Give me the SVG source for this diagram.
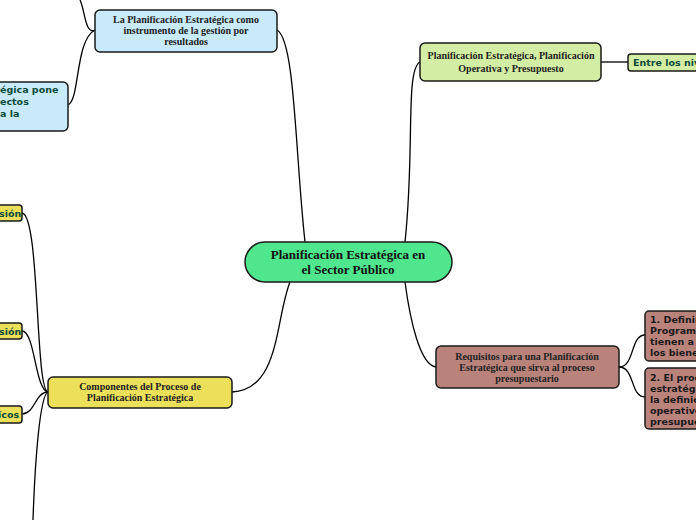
<svg xmlns="http://www.w3.org/2000/svg" width="696" height="520" viewBox="0 0 696 520">
<style>
.b{stroke:#1a1a1a;stroke-width:1.5}
.c{fill:none;stroke:#000;stroke-width:1.3}
.s{font-family:"Liberation Serif",serif;font-weight:bold;font-size:10px;fill:#222;text-anchor:middle}
.d{font-family:"DejaVu Sans",sans-serif;font-weight:bold;font-size:9.5px;fill:#1a1a1a}
.g{fill:#0b4a3a}
</style>
<rect width="696" height="520" fill="#fff"/>
<g id="connectors">
<path class="c" d="M305 242 C295 150 295 40 277 30"/>
<path class="c" d="M95 30 C85 35 85 10 80 0"/>
<path class="c" d="M95 30 C75 40 80 100 68 105"/>
<path class="c" d="M405 242 C415 150 405 70 420 62"/>
<path class="c" d="M601 62 H628"/>
<path class="c" d="M405 282 C410 320 420 365 436 367"/>
<path class="c" d="M619 367 C635 367 630 335 645 335"/>
<path class="c" d="M619 367 C635 367 630 397 645 397"/>
<path class="c" d="M290 282 C275 320 280 390 232 392"/>
<path class="c" d="M48 392 C35 390 40 215 22 213"/>
<path class="c" d="M48 392 C35 390 35 331 22 331"/>
<path class="c" d="M48 392 C35 392 35 414 22 414"/>
<path class="c" d="M48 392 C40 395 35 460 33 520"/>
</g>
<g id="n-center"><rect class="b" x="245" y="242" width="207" height="40" rx="20" fill="#50e68e"/><text class="s" style="font-size:13px;fill:#111"><tspan x="348" y="259">Planificación Estratégica  en</tspan><tspan x="348" y="274">el Sector Público</tspan></text></g>
<g id="n-gestion"><rect class="b" x="95" y="10" width="182" height="42" rx="5" fill="#c8eafa"/><text class="s"><tspan x="186" y="23">La Planificación Estratégica como</tspan><tspan x="186" y="34">instrumento de la gestión por</tspan><tspan x="186" y="45">resultados</tspan></text></g>
<g id="n-pone"><rect class="b" x="-10" y="82" width="78" height="49" rx="5" fill="#c8eafa"/><text class="d g"><tspan x="0" y="93">égica pone</tspan><tspan x="0" y="105">ectos</tspan><tspan x="0" y="117">a la</tspan></text></g>
<g id="n-plan"><rect class="b" x="420" y="43" width="181" height="38" rx="5" fill="#d3eea4"/><text class="s"><tspan x="511" y="59">Planificación Estratégica, Planificación</tspan><tspan x="511" y="72">Operativa y Presupuesto</tspan></text></g>
<g id="n-entre"><rect class="b" x="628" y="54" width="80" height="17" rx="3" fill="#d3eea4"/><text class="d g" x="633" y="66">Entre los niveles</text></g>
<g id="n-req"><rect class="b" x="436" y="346" width="183" height="42" rx="5" fill="#b9827a"/><text class="s"><tspan x="527" y="360">Requisitos para una Planificación</tspan><tspan x="527" y="371">Estratégica que sirva al proceso</tspan><tspan x="527" y="382">presupuestario</tspan></text></g>
<g id="n-r1"><rect class="b" x="645" y="311" width="60" height="50" rx="4" fill="#b9827a"/><text class="d"><tspan x="650" y="323">1. Definir</tspan><tspan x="650" y="334">Programas</tspan><tspan x="650" y="345">tienen a c</tspan><tspan x="650" y="356">los bienes</tspan></text></g>
<g id="n-r2"><rect class="b" x="645" y="368" width="60" height="61" rx="4" fill="#b9827a"/><text class="d"><tspan x="650" y="381">2. El proc</tspan><tspan x="650" y="392">estratégic</tspan><tspan x="650" y="403">la definic</tspan><tspan x="650" y="414">operativo</tspan><tspan x="650" y="425">presupues</tspan></text></g>
<g id="n-comp"><rect class="b" x="48" y="377" width="184" height="31" rx="5" fill="#ece05a"/><text class="s"><tspan x="140" y="390">Componentes del Proceso de</tspan><tspan x="140" y="401">Planificación Estratégica</tspan></text></g>
<g id="n-y1"><rect class="b" x="-10" y="205" width="32" height="16" rx="3" fill="#ece05a"/><text class="d g" x="-1" y="217">sión</text></g>
<g id="n-y2"><rect class="b" x="-10" y="323" width="32" height="16" rx="3" fill="#ece05a"/><text class="d g" x="-1" y="335">sión</text></g>
<g id="n-y3"><rect class="b" x="-10" y="406" width="32" height="17" rx="3" fill="#ece05a"/><text class="d g" x="-2" y="418">ícos</text></g>
</svg>
